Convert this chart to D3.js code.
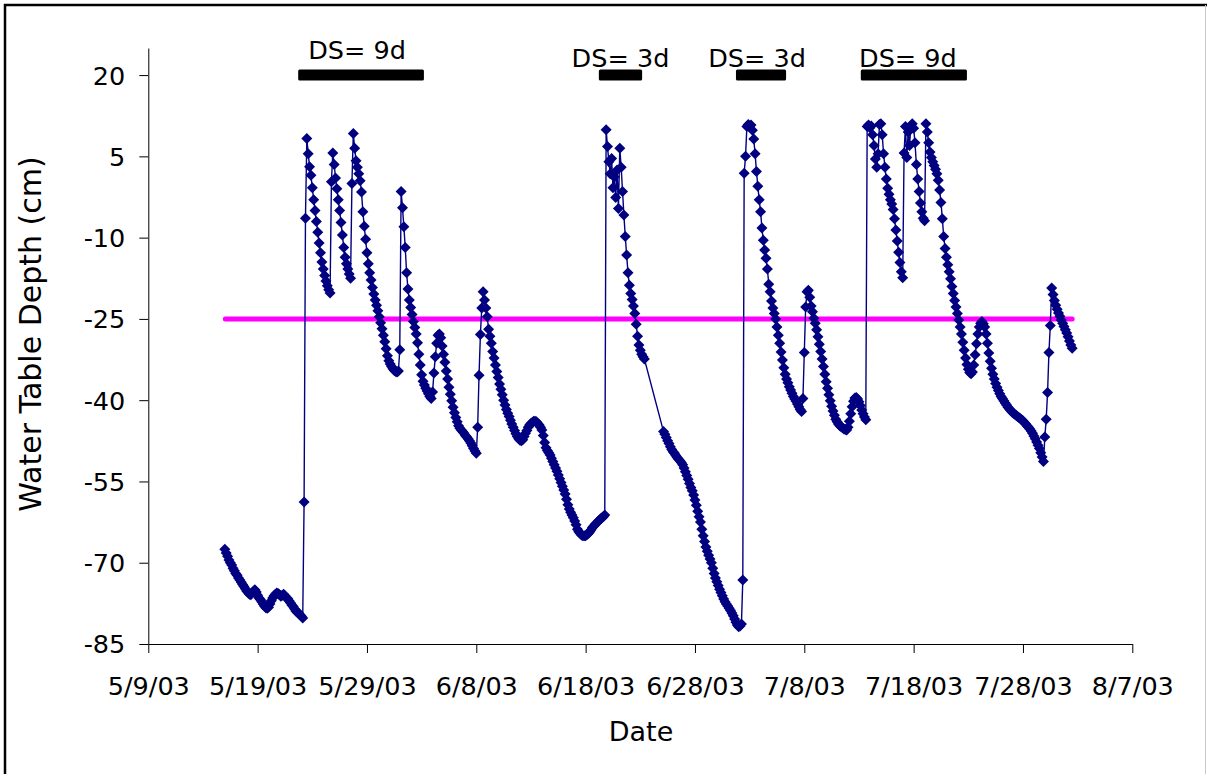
<!DOCTYPE html>
<html>
<head>
<meta charset="utf-8">
<script src="https://cdn.jsdelivr.net/npm/d3@7"></script>
<style>
  html, body { margin: 0; padding: 0; background: #fff; }
  svg { display: block; }
  text { font-family: "DejaVu Sans", Verdana, sans-serif; fill: #000; }
</style>
</head>
<body>
<svg id="chart" width="1207" height="774"></svg>
<script>
// Water table depth (cm), logged every 3 hours; one row per day (00:00 ... 21:00).
// null marks hours with no logger record.
const readingStepHours = 3;

const depthMay = [ // from 2003-05-16 00:00
  -67.5, -68.2, -68.8, -69.5, -70.0, -70.4, -71.0, -71.5,
  -72.0, -72.3, -72.8, -73.2, -73.6, -74.0, -74.4, -74.8,
  -75.2, -75.5, -75.8, -75.9, -75.6, -75.2, -75.0, -75.4,
  -76.0, -76.5, -76.8, -77.2, -77.6, -78.0, -78.3, -78.4,
  -78.2, -77.6, -77.0, -76.5, -76.1, -75.8, -75.6, -75.7,
  -75.9, -76.2, -76.0, -75.8, -76.1, -76.5, -76.6, -77.0,
  -77.4, -77.8, -78.1, -78.5, -78.9, -79.2, -79.3, -79.6,
  -79.9, -80.2, -58.8, -6.4, 8.3, 5.5, 3.1, 1.5,
  -0.8, -3.0, -5.0, -7.0, -9.0, -11.0, -12.8, -14.5,
  -15.8, -17.0, -18.0, -18.9, -19.6, -20.2, 0.3, 5.6,
  3.5, 1.0, -1.0, -3.0, -5.0, -7.2, -9.5, -11.8,
  -13.6, -14.8, -15.8, -16.7, -17.5, 0.0, 9.2, 6.5,
  4.2, 3.0, 1.8, 0.5, -1.6, -5.2, -7.9, -10.3,
  -12.8, -14.8, -16.5, -17.8, -19.2, -20.4, -21.5, -22.5,
  -23.5, -24.6, -25.7, -26.8, -28.0, -29.2, -30.5, -31.8,
  -32.7, -33.3, -33.8, -34.2, -34.5, -34.7, -34.8, -34.6
];

const depthJunA = [ // from 2003-06-01 00:00
  -30.7, -1.5, -4.5, -8.0, -11.8, -16.5, -19.5, -21.5,
  -22.9, -24.2, -25.5, -26.6, -27.8, -29.4, -31.5, -33.5,
  -35.3, -36.5, -37.2, -37.8, -38.3, -38.8, -39.3, -39.7,
  -38.5, -35.0, -32.0, -29.5, -28.0, -27.8, -28.5, -30.0,
  -31.5, -33.0, -34.6, -36.1, -37.6, -38.9, -40.1, -41.3,
  -42.3, -43.2, -44.0, -44.7, -45.2, -45.5, -45.8, -46.1,
  -46.5, -46.8, -47.1, -47.5, -47.9, -48.4, -48.9, -49.4,
  -49.8, -45.0, -35.4, -27.9, -23.0, -20.0, -21.5, -23.0,
  -24.6, -26.9, -28.2, -29.5, -31.0, -32.2, -33.5, -34.7,
  -35.8, -37.0, -38.0, -39.0, -40.0, -40.9, -41.7, -42.4,
  -43.0, -43.7, -44.4, -45.0, -45.6, -46.2, -46.7, -47.1,
  -47.4, -47.5, -47.3, -46.7, -46.1, -45.6, -45.0, -44.6,
  -44.3, -44.1, -43.9, -43.9, -44.0, -44.3, -44.6, -45.0,
  -45.5, -46.5, -47.8, -48.8, -49.3, -49.7, -50.1, -50.7,
  -51.3, -51.9, -52.5, -53.1, -53.8, -54.5, -55.2, -55.9
];

const depthJunB = [ // from 2003-06-16 00:00
  -56.6, -57.3, -58.3, -59.3, -60.1, -60.7, -61.2, -61.7,
  -62.3, -63.0, -63.8, -64.3, -64.6, -64.9, -65.0, -65.0,
  -65.0, -64.8, -64.6, -64.3, -63.9, -63.5, -63.2, -62.9,
  -62.7, -62.4, -62.1, -61.9, -61.7, -61.5, -61.2, 9.9,
  6.8, 4.0, 1.8, 4.6, -0.8, 1.2, -2.6, 2.5,
  -4.6, 6.5, 3.0, -1.5, -5.8, -9.8, -13.2, -16.5,
  -18.8, -20.3, -21.4, -22.6, -24.0, -26.0, -28.2, -29.8,
  -30.8, -31.5, -32.0, -32.4, null, null, null, null,
  null, null, null, null, null, null, null, null,
  null, -45.8, -46.3, -46.9, -47.5, -48.0, -48.6, -49.1,
  -49.5, -49.8, -50.2, -50.6, -50.9, -51.2, -51.5, -51.9,
  -52.5, -53.2, -53.9, -54.6, -55.4, -56.1, -56.7, -57.5,
  -58.4, -59.4, -60.5, -61.5, -62.5, -63.8, -65.0, -66.1,
  -67.1, -67.9, -68.6, -69.3, -70.0, -71.0, -72.0, -72.8,
  -73.5, -74.2, -74.9, -75.5, -76.1, -76.7, -77.2, -77.6
];

const depthJulA = [ // from 2003-07-01 00:00
  -78.0, -78.4, -78.8, -79.3, -79.8, -80.4, -81.0, -81.5,
  -81.8, -81.7, -81.3, -73.2, 1.9, 5.0, 10.5, 10.9,
  10.6, 10.8, 9.8, 8.2, 5.5, 2.2, -0.5, -3.0,
  -5.2, -8.2, -10.5, -12.3, -13.8, -15.8, -18.6, -20.0,
  -21.7, -23.0, -24.0, -25.0, -26.5, -28.0, -29.5, -31.1,
  -32.6, -34.0, -35.2, -36.1, -36.8, -37.5, -38.1, -38.7,
  -39.3, -39.8, -40.2, -40.7, -41.2, -41.7, -42.1, -39.7,
  -31.2, -22.8, -20.0, -19.7, -21.0, -22.6, -23.7, -24.9,
  -25.8, -27.0, -28.3, -29.7, -31.0, -32.4, -33.8, -35.2,
  -36.6, -37.8, -39.0, -40.1, -41.1, -42.0, -42.8, -43.5,
  -44.0, -44.4, -44.7, -44.9, -45.1, -45.3, -45.4, -45.5,
  -45.0, -43.9, -42.5, -41.2, -40.2, -39.6, -39.5, -39.8,
  -40.3, -41.0, -41.8, -42.5, -43.1, -43.6, 10.5, 10.8,
  10.3, 10.6, 9.0, 7.0, 4.5, 3.0, 5.5, 10.9,
  11.0, 9.0, 5.5, 3.0, 0.8, -0.9, -2.0, -3.0,
  -3.8, -4.8, -6.5, -8.6, -10.6, -12.7, -14.6, -16.3
];

const depthJulB = [ // from 2003-07-17 00:00
  -17.4, 5.6, 10.5, 4.8, 9.5, 7.0, 10.6, 11.0,
  10.2, 7.5, 3.5, 0.8, -1.5, -3.6, -5.2, -6.4,
  -6.9, 11.0, 9.5, 7.5, 5.8, 4.8, 4.0, 3.3,
  2.6, 1.8, 0.6, -1.2, -3.5, -6.5, -9.8, -12.0,
  -13.6, -15.0, -16.3, -17.6, -19.0, -20.3, -21.6, -22.8,
  -24.0, -25.2, -26.5, -27.8, -29.3, -30.8, -32.2, -33.4,
  -34.3, -34.9, -35.1, -34.8, -33.5, -31.6, -29.6, -27.8,
  -26.5, -25.8, -25.5, -25.9, -26.5, -27.8, -29.5, -31.3,
  -32.8, -34.1, -35.2, -36.1, -36.9, -37.6, -38.2, -38.8,
  -39.3, -39.7, -40.1, -40.5, -40.9, -41.3, -41.6, -41.9,
  -42.2, -42.4, -42.6, -42.8, -43.0, -43.2, -43.4, -43.6,
  -43.8, -44.1, -44.4, -44.7, -45.0, -45.3, -45.7, -46.1,
  -46.6, -47.1, -47.7, -48.3, -48.9, -49.7, -50.5, -51.3,
  -46.8, -43.5, -38.6, -31.2, -26.2, -19.3, -20.5, -21.6,
  -22.5, -23.2, -23.9, -24.5, -25.2, -25.8, -26.4, -27.0,
  -27.6, -28.3, -29.1, -29.8, -30.4
];

const runStarts = ["2003-05-16T00:00", "2003-06-01T00:00", "2003-06-16T00:00", "2003-07-01T00:00", "2003-07-17T00:00"];
const runValues = [depthMay, depthJunA, depthJunB, depthJulA, depthJulB];

// Reference depth line
const targetDepth = -25;
const targetStart = "2003-05-16T01:00";
const targetEnd = "2003-08-01T12:00";

// Drainage-stop (DS) periods
const dsLabels = ["DS= 9d", "DS= 3d", "DS= 3d", "DS= 9d"];
const dsStart = ["2003-05-22T17:00", "2003-06-19T05:00", "2003-07-01T18:00", "2003-07-13T04:00"];
const dsEnd   = ["2003-06-03T05:00", "2003-06-23T04:00", "2003-07-06T08:00", "2003-07-22T21:00"];
const dsLevel = 20;

// Axes
const xTickDates = ["2003-05-09", "2003-05-19", "2003-05-29", "2003-06-08", "2003-06-18", "2003-06-28", "2003-07-08", "2003-07-18", "2003-07-28", "2003-08-07"];
const yTickValues = [-85, -70, -55, -40, -25, -10, 5, 20];
const xDomain = ["2003-05-09", "2003-08-07"];
const yDomain = [-85, 25];

// ---------------------------------------------------------------------------
const parseTime = d3.utcParse("%Y-%m-%dT%H:%M");
const parseDay = d3.utcParse("%Y-%m-%d");
const fmt = d3.utcFormat("%-m/%-d/%y");

const svg = d3.select("#chart");
const W = 1207, H = 774;
const plot = { left: 148.3, right: 1132.3, top: 48, bottom: 644 };

const x = d3.scaleUtc().domain(xDomain.map(parseDay)).range([plot.left, plot.right]);
const y = d3.scaleLinear().domain(yDomain).range([plot.bottom, plot.top]);

// readings -> points
const points = [];
runValues.forEach((vals, r) => {
  const t0 = parseTime(runStarts[r]);
  vals.forEach((v, i) => {
    if (v === null) return;
    points.push({ date: d3.utcHour.offset(t0, i * readingStepHours), value: v });
  });
});

// outer frame
svg.append("rect").attr("width", W).attr("height", H).attr("fill", "#fff");
svg.append("path").attr("d", `M${W},5 H5 V${H}`).attr("fill", "none")
  .attr("stroke", "#000").attr("stroke-width", 2.5);
svg.append("line").attr("x1", 1205.5).attr("x2", 1205.5).attr("y1", 5).attr("y2", H)
  .attr("stroke", "#c8c8c8").attr("stroke-width", 1);

// axes (plain hyphen for negative labels)
const yAxis = d3.axisLeft(y).tickValues(yTickValues).tickFormat(d => String(d))
  .tickSizeInner(9).tickSizeOuter(0).tickPadding(14);
const gy = svg.append("g").attr("transform", `translate(${plot.left},0)`).call(yAxis);
const xAxis = d3.axisBottom(x).tickValues(xTickDates.map(parseDay)).tickFormat(fmt)
  .tickSizeInner(9).tickSizeOuter(0);
const gx = svg.append("g").attr("transform", `translate(0,${plot.bottom})`).call(xAxis);

[gx, gy].forEach(g => {
  g.select(".domain").attr("stroke", "#000").attr("stroke-width", 1);
  g.selectAll(".tick line").attr("stroke", "#000").attr("stroke-width", 1);
  g.selectAll(".tick text").attr("font-family", null).style("font-size", "25.5px").attr("fill", "#000");
});
gy.selectAll(".tick text").attr("dy", "0.35em");
gx.selectAll(".tick text").attr("y", 51).attr("dy", 0);

// axis titles
svg.append("text").attr("x", 641).attr("y", 741).attr("text-anchor", "middle")
  .style("font-size", "27px").text("Date");
svg.append("text").attr("transform", "translate(41,334) rotate(-90)").attr("text-anchor", "middle")
  .style("font-size", "30px").text("Water Table Depth (cm)");

// reference depth line
svg.append("line")
  .attr("x1", x(parseTime(targetStart))).attr("x2", x(parseTime(targetEnd)))
  .attr("y1", y(targetDepth)).attr("y2", y(targetDepth))
  .attr("stroke", "#ff00ff").attr("stroke-width", 5).attr("stroke-linecap", "round");

// DS bars and labels
const dsLabelShift = [[-4, 8], [0, 0], [-4, 0], [-6, 0]];
dsLabels.forEach((lab, i) => {
  const x0 = x(parseTime(dsStart[i])), x1 = x(parseTime(dsEnd[i]));
  svg.append("rect").attr("x", x0).attr("y", y(dsLevel) - 5.5)
    .attr("width", x1 - x0).attr("height", 11).attr("rx", 1.5).attr("fill", "#000");
  svg.append("text").attr("x", (x0 + x1) / 2 + dsLabelShift[i][0]).attr("y", 67 - dsLabelShift[i][1])
    .attr("text-anchor", "middle").style("font-size", "25.5px").text(lab);
});

// water table series
const line = d3.line().x(d => x(d.date)).y(d => y(d.value));
svg.append("path").datum(points).attr("d", line)
  .attr("fill", "none").attr("stroke", "#000080").attr("stroke-width", 1.4);

const diamond = {
  draw(ctx, size) {
    const r = Math.sqrt(size / 2);
    ctx.moveTo(0, -r); ctx.lineTo(r, 0); ctx.lineTo(0, r); ctx.lineTo(-r, 0); ctx.closePath();
  }
};
const sym = d3.symbol().type(diamond).size(2 * 5.5 * 5.5);
svg.append("g").selectAll("path").data(points).join("path")
  .attr("transform", d => `translate(${x(d.date)},${y(d.value)})`)
  .attr("d", sym).attr("fill", "#000080");
</script>
</body>
</html>
